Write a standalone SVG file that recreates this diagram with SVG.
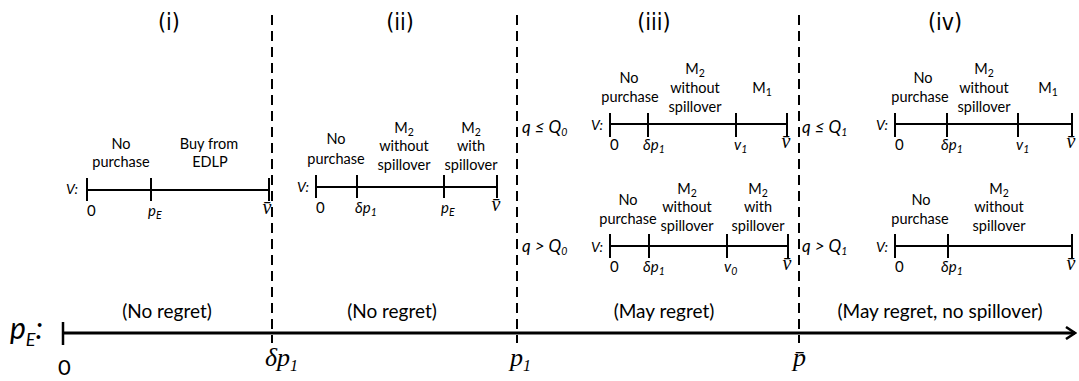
<svg xmlns="http://www.w3.org/2000/svg" width="1079" height="381" viewBox="0 0 1079 381">
<style>
text{font-family:Lato,"Liberation Sans",sans-serif;fill:#000}
.c{text-anchor:middle}
.lb{font-size:14.5px}
.z{font-size:15px}
.vv{font-size:14px;font-style:italic}
.nm{font-size:15px;font-style:italic}
.q{font-size:17px;font-style:italic}
.sub{font-size:10.5px}
.bar{font-family:"Liberation Serif",serif;font-style:italic;font-size:20px}
.ttl{font-family:"Liberation Sans Narrow","DejaVu Sans Condensed","Liberation Sans",sans-serif;font-size:23px;text-anchor:middle}
.reg{font-size:19px;text-anchor:middle}
.big{font-family:"Liberation Serif",serif;font-style:italic;font-size:26px}
.ax{stroke:#000;stroke-width:2;fill:none}
.tk{stroke:#000;stroke-width:2}
.dash{stroke:#000;stroke-width:2;stroke-dasharray:10 6}
</style>
<defs>
<marker id="arr" markerWidth="12" markerHeight="14" refX="10" refY="7" orient="auto" markerUnits="userSpaceOnUse">
<path d="M1,1 L10,7 L1,13" fill="none" stroke="#000" stroke-width="2.5"/>
</marker>
</defs>

<g id="titles">
<text class="ttl" x="169" y="30">(i)</text>
<text class="ttl" x="400" y="30">(ii)</text>
<text class="ttl" x="654" y="30">(iii)</text>
<text class="ttl" x="945" y="30">(iv)</text>
</g>

<g id="connectors">
<line class="dash" x1="272" y1="15" x2="272" y2="343"/>
<line class="dash" x1="517" y1="15" x2="517" y2="343"/>
<line class="dash" x1="799" y1="15" x2="799" y2="343"/>
<line x1="63" y1="333" x2="1075" y2="333" stroke="#000" stroke-width="3" marker-end="url(#arr)"/>
<line x1="63" y1="322" x2="63" y2="345" stroke="#000" stroke-width="2.5"/>
</g>

<g id="axis-labels">
<text x="10" y="339" style="font-family:Lato,'Liberation Sans',sans-serif;font-style:italic;font-size:30px">p<tspan font-size="18" dy="7">E</tspan><tspan dy="-7">:</tspan></text>
<text x="58" y="375" style="font-size:22px">0</text>
<text class="big" x="265" y="366">δp<tspan font-size="16" dy="5">1</tspan></text>
<text class="big" x="510" y="366">p<tspan font-size="16" dy="5">1</tspan></text>
<text class="big" x="793" y="366">p̄</text>
<text class="reg" x="167" y="318">(No regret)</text>
<text class="reg" x="392" y="318">(No regret)</text>
<text class="reg" x="664" y="318">(May regret)</text>
<text class="reg" x="940" y="318">(May regret, no spillover)</text>
</g>

<g id="panel-i">
<text class="vv" x="66" y="194">V:</text>
<line class="ax" x1="87" y1="190" x2="269" y2="190"/>
<line class="tk" x1="87" y1="178" x2="87" y2="201"/>
<line class="tk" x1="151" y1="178" x2="151" y2="201"/>
<line class="tk" x1="269" y1="178" x2="269" y2="201"/>
<text class="lb c" x="121" y="149">No</text>
<text class="lb c" x="121" y="167">purchase</text>
<text class="lb c" x="209" y="149">Buy from</text>
<text class="lb c" x="210" y="167">EDLP</text>
<text class="z" x="87" y="216">0</text>
<text class="nm" x="148" y="216">p<tspan class="sub" dy="3">E</tspan></text>
<text class="bar c" x="267" y="214">v̄</text>
</g>

<g id="panel-ii">
<text class="vv" x="297" y="192">V:</text>
<line class="ax" x1="316" y1="187" x2="497" y2="187"/>
<line class="tk" x1="316" y1="175" x2="316" y2="198"/>
<line class="tk" x1="357" y1="175" x2="357" y2="198"/>
<line class="tk" x1="444" y1="175" x2="444" y2="198"/>
<line class="tk" x1="497" y1="175" x2="497" y2="198"/>
<text class="lb c" x="336" y="144">No</text>
<text class="lb c" x="336" y="164">purchase</text>
<text class="lb c" x="404" y="133">M<tspan class="sub" dy="3">2</tspan></text>
<text class="lb c" x="404" y="151">without</text>
<text class="lb c" x="404" y="170">spillover</text>
<text class="lb c" x="471" y="133">M<tspan class="sub" dy="3">2</tspan></text>
<text class="lb c" x="471" y="151">with</text>
<text class="lb c" x="471" y="170">spillover</text>
<text class="z" x="316" y="213">0</text>
<text class="nm" x="355" y="213">δp<tspan class="sub" dy="3">1</tspan></text>
<text class="nm" x="441" y="213">p<tspan class="sub" dy="3">E</tspan></text>
<text class="bar c" x="496" y="211">v̄</text>
</g>

<g id="panel-iii-top">
<text class="q" x="522" y="133">q ≤ Q<tspan class="sub" dy="3">0</tspan></text>
<text class="vv" x="591" y="130">V:</text>
<line class="ax" x1="610" y1="124" x2="787" y2="124"/>
<line class="tk" x1="610" y1="113" x2="610" y2="137"/>
<line class="tk" x1="648" y1="113" x2="648" y2="137"/>
<line class="tk" x1="736" y1="113" x2="736" y2="137"/>
<line class="tk" x1="787" y1="113" x2="787" y2="137"/>
<text class="lb c" x="629" y="83">No</text>
<text class="lb c" x="630" y="102">purchase</text>
<text class="lb c" x="695" y="74">M<tspan class="sub" dy="3">2</tspan></text>
<text class="lb c" x="695" y="93">without</text>
<text class="lb c" x="695" y="112">spillover</text>
<text class="lb c" x="762" y="93">M<tspan class="sub" dy="3">1</tspan></text>
<text class="z" x="610" y="150">0</text>
<text class="nm" x="643" y="150">δp<tspan class="sub" dy="3">1</tspan></text>
<text class="nm" x="734" y="150">v<tspan class="sub" dy="3">1</tspan></text>
<text class="bar c" x="786" y="148">v̄</text>
</g>

<g id="panel-iii-bottom">
<text class="q" x="522" y="252">q &gt; Q<tspan class="sub" dy="3">0</tspan></text>
<text class="vv" x="591" y="252">V:</text>
<line class="ax" x1="610" y1="246" x2="788" y2="246"/>
<line class="tk" x1="610" y1="234" x2="610" y2="258"/>
<line class="tk" x1="649" y1="234" x2="649" y2="258"/>
<line class="tk" x1="727" y1="234" x2="727" y2="258"/>
<line class="tk" x1="788" y1="234" x2="788" y2="258"/>
<text class="lb c" x="628" y="205">No</text>
<text class="lb c" x="628" y="224">purchase</text>
<text class="lb c" x="687" y="194">M<tspan class="sub" dy="3">2</tspan></text>
<text class="lb c" x="687" y="212">without</text>
<text class="lb c" x="687" y="231">spillover</text>
<text class="lb c" x="758" y="194">M<tspan class="sub" dy="3">2</tspan></text>
<text class="lb c" x="758" y="212">with</text>
<text class="lb c" x="758" y="231">spillover</text>
<text class="z" x="610" y="272">0</text>
<text class="nm" x="643" y="272">δp<tspan class="sub" dy="3">1</tspan></text>
<text class="nm" x="724" y="272">v<tspan class="sub" dy="3">0</tspan></text>
<text class="bar c" x="787" y="270">v̄</text>
</g>

<g id="panel-iv-top">
<text class="q" x="802" y="133">q ≤ Q<tspan class="sub" dy="3">1</tspan></text>
<text class="vv" x="876" y="130">V:</text>
<line class="ax" x1="895" y1="124" x2="1072" y2="124"/>
<line class="tk" x1="895" y1="113" x2="895" y2="137"/>
<line class="tk" x1="947" y1="113" x2="947" y2="137"/>
<line class="tk" x1="1018" y1="113" x2="1018" y2="137"/>
<line class="tk" x1="1072" y1="113" x2="1072" y2="137"/>
<text class="lb c" x="923" y="83">No</text>
<text class="lb c" x="920" y="102">purchase</text>
<text class="lb c" x="984" y="74">M<tspan class="sub" dy="3">2</tspan></text>
<text class="lb c" x="984" y="93">without</text>
<text class="lb c" x="984" y="112">spillover</text>
<text class="lb c" x="1048" y="93">M<tspan class="sub" dy="3">1</tspan></text>
<text class="z" x="895" y="150">0</text>
<text class="nm" x="941" y="150">δp<tspan class="sub" dy="3">1</tspan></text>
<text class="nm" x="1016" y="150">v<tspan class="sub" dy="3">1</tspan></text>
<text class="bar c" x="1071" y="148">v̄</text>
</g>

<g id="panel-iv-bottom">
<text class="q" x="802" y="252">q &gt; Q<tspan class="sub" dy="3">1</tspan></text>
<text class="vv" x="876" y="252">V:</text>
<line class="ax" x1="895" y1="246" x2="1072" y2="246"/>
<line class="tk" x1="895" y1="234" x2="895" y2="258"/>
<line class="tk" x1="948" y1="234" x2="948" y2="258"/>
<line class="tk" x1="1072" y1="234" x2="1072" y2="258"/>
<text class="lb c" x="921" y="205">No</text>
<text class="lb c" x="920" y="224">purchase</text>
<text class="lb c" x="999" y="194">M<tspan class="sub" dy="3">2</tspan></text>
<text class="lb c" x="999" y="212">without</text>
<text class="lb c" x="999" y="231">spillover</text>
<text class="z" x="895" y="272">0</text>
<text class="nm" x="941" y="272">δp<tspan class="sub" dy="3">1</tspan></text>
<text class="bar c" x="1071" y="270">v̄</text>
</g>
</svg>
